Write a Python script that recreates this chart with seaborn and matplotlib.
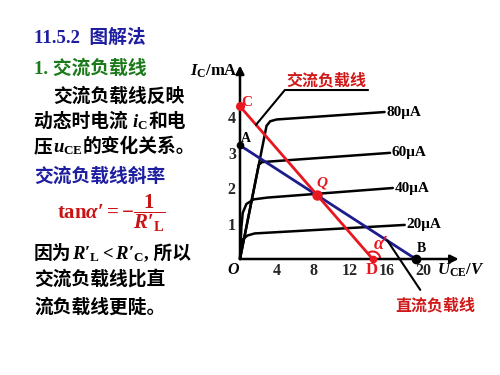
import numpy as np
import pandas as pd
import matplotlib
matplotlib.use("Agg")
import matplotlib.pyplot as plt
import matplotlib.transforms as mtransforms
from matplotlib.patches import Arc
import seaborn as sns

# ---------------- data ----------------
ib_labels = ["20μA", "40μA", "60μA", "80μA"]
u_20 = [0.0, 0.1, 0.3, 0.8, 1.6, 18.0]
i_20 = [0.0, 0.35, 0.55, 0.66, 0.72, 0.96]
u_40 = [0.0, 0.15, 0.3, 0.7, 1.5, 3.0, 16.7]
i_40 = [0.0, 0.9, 1.3, 1.55, 1.68, 1.73, 2.0]
u_60 = [0.0, 2.05, 2.4, 16.4]
i_60 = [0.0, 2.65, 2.73, 2.99]
u_80 = [0.0, 2.9, 3.3, 4.0, 15.8]
i_80 = [0.0, 3.75, 3.88, 3.93, 4.14]

ac_u = [0.0, 14.5]   # C -> D
ac_i = [4.3, 0.0]
dc_u = [0.0, 19.2]   # A -> B
dc_i = [3.2, 0.0]
q_u, q_i = 8.45, 1.8

x_ticks = [4, 8, 12, 16, 20]
y_ticks = [1, 2, 3, 4]

W, H = 500, 375
RED = "#e8161e"
DRED = "#d01818"
NAVY = "#1c1c8c"
TBLUE = "#1e1ea0"
GREEN = "#1a7a1a"

sns.set_theme(style="white")
plt.rcParams["font.family"] = ["Liberation Serif", "Noto Sans CJK SC"]
plt.rcParams["mathtext.fontset"] = "custom"
plt.rcParams["mathtext.rm"] = "Liberation Serif:bold"
plt.rcParams["mathtext.it"] = "Liberation Serif:italic:bold"
plt.rcParams["mathtext.bf"] = "Liberation Serif:bold"
plt.rcParams["mathtext.fallback"] = "stix"

fig = plt.figure(figsize=(5, 3.75), dpi=100)
fig.patch.set_facecolor("white")

# axes placed so that origin is at px (240,259), 9.15 px/V, 35.5 px/mA
ox, oy, sx, sy = 240, 259, 9.15, 35.5
left_px, right_px, top_px, bot_px = 200, 490, 50, 300
ax = fig.add_axes([left_px / W, 1 - bot_px / H, (right_px - left_px) / W, (bot_px - top_px) / H])
ax.set_xlim((left_px - ox) / sx, (right_px - ox) / sx)
ax.set_ylim((oy - bot_px) / sy, (oy - top_px) / sy)
ax.set_facecolor("none")

# characteristic curves
frames = []
for lab, uu, ii in zip(ib_labels, [u_20, u_40, u_60, u_80], [i_20, i_40, i_60, i_80]):
    frames.append(pd.DataFrame({"U": uu, "I": ii, "ib": lab}))
curves = pd.concat(frames, ignore_index=True)
sns.lineplot(data=curves, x="U", y="I", units="ib", estimator=None, sort=False,
             color="black", lw=1.8, ax=ax, legend=False)

# curve labels
for lab, uu, ii in zip(ib_labels, [u_20, u_40, u_60, u_80], [i_20, i_40, i_60, i_80]):
    ax.text(uu[-1] + 0.2, ii[-1], lab, fontsize=11, fontweight="bold",
            ha="left", va="center", color="black")

# load lines
sns.lineplot(x=dc_u, y=dc_i, color=NAVY, lw=2.0, ax=ax)
sns.lineplot(x=ac_u, y=ac_i, color=RED, lw=2.0, ax=ax)

# axes with arrows
ax.annotate("", xy=(23.9, 0), xytext=(0, 0),
            arrowprops=dict(arrowstyle="-|>", lw=1.8, color="black", mutation_scale=12,
                            shrinkA=0, shrinkB=0), annotation_clip=False)
ax.annotate("", xy=(0, 5.45), xytext=(0, 0),
            arrowprops=dict(arrowstyle="-|>", lw=1.8, color="black", mutation_scale=12,
                            shrinkA=0, shrinkB=0), annotation_clip=False)
for s in ["top", "right"]:
    ax.spines[s].set_visible(False)
ax.spines["left"].set_position(("data", 0))
ax.spines["bottom"].set_position(("data", 0))
ax.spines["left"].set_visible(False)
ax.spines["bottom"].set_visible(False)
ax.set_xticks(x_ticks)
ax.set_xticklabels([str(t) for t in x_ticks])
ax.set_yticks(y_ticks)
ax.set_yticklabels([str(t) for t in y_ticks])
ax.tick_params(axis="both", direction="in", length=3, width=1.5, color="black",
               labelsize=11.5, pad=3)
for lbl in ax.get_xticklabels() + ax.get_yticklabels():
    lbl.set_fontweight("bold")
ax.set_xlabel("")
ax.set_ylabel("")
ax.grid(False)

# points
ax.plot([0], [ac_i[0]], "o", color=RED, ms=5.5, clip_on=False, zorder=5)
ax.plot([0], [dc_i[0]], "o", color="black", ms=4.5, clip_on=False, zorder=5)
ax.plot([q_u], [q_i], "o", color=RED, ms=6.5, zorder=6)
ax.plot([dc_u[1]], [0], "o", color="black", ms=6, zorder=6, clip_on=False)
ax.plot([ac_u[1]], [0], "o", color=RED, ms=4.5, zorder=6, clip_on=False)

ax.text(0.7, 4.4, "C", color=RED, fontsize=11, fontweight="bold", ha="center", va="center")
ax.text(0.6, 3.4, "A", color="black", fontsize=10, fontweight="bold", ha="center", va="center")
ax.text(9.0, 2.15, "Q", color=RED, fontsize=11, fontweight="bold", fontstyle="italic",
        ha="center", va="center")
ax.text(19.8, 0.3, "B", color="black", fontsize=10, fontweight="bold", ha="center", va="center")
ax.text(14.4, -0.32, "D", color=RED, fontsize=12, fontweight="bold", ha="center", va="center")
ax.text(-0.8, -0.31, "O", color="black", fontsize=11.5, fontweight="bold", fontstyle="italic",
        ha="center", va="center")
ax.text(15.4, 0.4, "$\\alpha′$", color=RED, fontsize=13, ha="center", va="center")

# alpha arc (drawn in pixel space around D)
dx, dy = ax.transData.transform((ac_u[1], 0))
cx, cy = ax.transData.transform((0, ac_i[0]))
ang = np.degrees(np.arctan2(cy - dy, cx - dx))
ax.add_patch(Arc((dx, dy), 15, 15, theta1=0, theta2=ang, color=RED, lw=1.5,
                 transform=mtransforms.IdentityTransform(), clip_on=False))

# annotations
ax.plot([1.75, 4.9, 14.0], [3.78, 4.76, 4.76], color="black", lw=1.5, clip_on=False)
ax.text(9.45, 5.02, "交流负载线", color=DRED, fontsize=11.5, fontweight="bold",
        family=["Noto Sans CJK SC"], ha="center", va="center")
ax.plot([16.1, 19.7], [0.52, -0.87], color="black", lw=1.5, clip_on=False)
ax.text(21.3, -1.3, "直流负载线", color=DRED, fontsize=11.5, fontweight="bold",
        family=["Noto Sans CJK SC"], ha="center", va="center", clip_on=False)

# axis labels
fig.text(190 / W, 1 - 76 / H, r"$I_{\mathrm{C}}/\mathrm{mA}$", fontsize=12, color="black",
         ha="left", va="baseline")
fig.text(437 / W, 1 - 275 / H, r"$U_{\mathrm{CE}}/V$", fontsize=12, color="black",
         ha="left", va="baseline")

# ---------------- left text ----------------
renderer = fig.canvas.get_renderer()
CJK = dict(family=["Liberation Serif", "Noto Sans CJK SC"], fontweight="bold")


def chain(x_px, base_px, pieces, size=13.5):
    x = x_px
    for s, color in pieces:
        t = fig.text(x / W, 1 - base_px / H, s, ha="left", va="baseline",
                     fontsize=size, color=color, **CJK)
        bb = t.get_window_extent(renderer)
        x += bb.width


chain(34, 43, [("11.5.2  图解法", TBLUE)], size=13.5)
chain(34, 74, [("1. 交流负载线", GREEN)], size=13.5)
chain(53, 102, [("交流负载线反映", "black")])
chain(34, 127, [("动态时电流 ", "black"), (r"$i_{\mathrm{C}}$", "black"), ("和电", "black")])
chain(34, 152, [("压", "black"), (r"$u_{\mathrm{CE}}$", "black"), ("的变化关系。", "black")])
chain(34, 182, [("交流负载线斜率", TBLUE)])
fig.text(57 / W, 1 - 219 / H, "$\\mathrm{tan}\\alpha′ = -\\dfrac{1}{R′_{\\mathrm{L}}}$",
         fontsize=15, color="#c81414", ha="left", va="baseline")
chain(34, 259, [("因为", "black"), ("$R′_{\\mathrm{L}} < R′_{\\mathrm{C}}$", "black"),
                (", 所以", "black")])
chain(34, 285, [("交流负载线比直", "black")])
chain(34, 313, [("流负载线更陡。", "black")])

fig.savefig("out.png", dpi=100)
